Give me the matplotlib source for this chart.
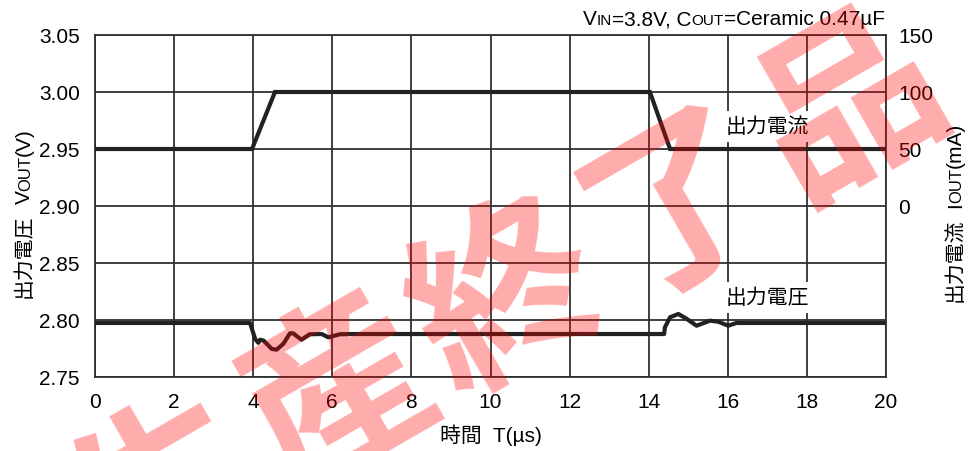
import numpy as np
import matplotlib.pyplot as plt

plt.rcParams['font.family'] = ['Liberation Sans', 'Noto Sans CJK JP']

# Load step response: output voltage (left axis) and load current (right axis)
time_v = [0, 3.92, 4.05, 4.13, 4.17, 4.26, 4.47, 4.59, 4.76, 4.93, 5.01, 5.22,
          5.43, 5.73, 5.90, 6.19, 6.5, 14.39, 14.41, 14.54, 14.75, 14.96, 15.21,
          15.55, 15.76, 16.01, 16.22, 16.5, 20]
vout = [2.7974, 2.7974, 2.7833, 2.7800, 2.7827, 2.7820, 2.7746, 2.7740, 2.7790,
        2.7883, 2.7883, 2.7827, 2.7875, 2.7877, 2.7848, 2.7875, 2.7877, 2.7877,
        2.7936, 2.8024, 2.8053, 2.8010, 2.7950, 2.7994, 2.7985, 2.7950, 2.7974,
        2.7974, 2.7974]

time_i = [0, 3.97, 4.55, 14.03, 14.54, 20]
iout = [50, 50, 100, 100, 50, 50]

x_ticks = list(range(0, 21, 2))
v_ticks = [2.75, 2.80, 2.85, 2.90, 2.95, 3.00, 3.05]
i_ticks = [0, 50, 100, 150]

W, H = 970, 452
fig = plt.figure(figsize=(W / 100, H / 100), dpi=100)
ax = fig.add_axes([95 / W, 1 - 378 / H, (886 - 95) / W, (378 - 36) / H])
grid_c = '#303030'
line_c = '#222222'

ax.set_xlim(0, 20)
ax.set_ylim(2.75, 3.05)
ax.set_xticks(x_ticks)
ax.set_yticks(v_ticks)
ax.set_yticklabels([f'{v:.2f}' for v in v_ticks])
ax.grid(True, color=grid_c, linewidth=1.3)
ax.tick_params(length=0, labelsize=15, pad=11)
for s in ax.spines.values():
    s.set_color(grid_c)
    s.set_linewidth(1.3)
ax.plot(time_v, vout, color=line_c, linewidth=3.0, solid_joinstyle='round', zorder=4)

ax2 = ax.twinx()
ax2.set_ylim(-150, 150)
ax2.set_yticks(i_ticks)
ax2.tick_params(length=0, labelsize=15, pad=9)
for s in ax2.spines.values():
    s.set_visible(False)
ax2.plot(time_i, iout, color=line_c, linewidth=3.0, solid_joinstyle='miter')

box = dict(facecolor='white', edgecolor='none', pad=4)
ax.text(17.0, 2.970, '出力電流', fontsize=15, ha='center', va='center', bbox=box, zorder=5)
ax.text(17.0, 2.820, '出力電圧', fontsize=15, ha='center', va='center', bbox=box, zorder=5)

renderer = fig.canvas.get_renderer()


def pieces_text(x, y, pieces, rotation=0, align='left'):
    """Draw text pieces of mixed size on one baseline, x/y in pixels."""
    arts = []
    pos = 0.0
    for s, size, gap in pieces:
        t = fig.text(0, 0, s, fontsize=size, rotation=rotation, ha='left',
                     va='baseline', rotation_mode='anchor')
        bb = t.get_window_extent(renderer)
        arts.append((t, pos))
        pos += (bb.width if rotation == 0 else bb.height) + gap
    shift = -pos if align == 'right' else 0
    for t, p in arts:
        if rotation == 0:
            t.set_position(((x + p + shift) / W, y / H))
        else:
            t.set_position((x / W, (y + p + shift) / H))


pieces_text(885, H - 25, [('V', 15, 0), ('IN', 11, 0), ('=3.8V, C', 15, 0),
                          ('OUT', 11, 0), ('=Ceramic 0.47µF', 15, 0)], align='right')
pieces_text(30, H - 298, [('出力電圧', 15, 10), ('V', 15, 0), ('OUT', 12, 0),
                          ('(V)', 15, 0)], rotation=90)
pieces_text(961, H - 302, [('出力電流', 15, 10), ('I', 15, 0), ('OUT', 12, 0),
                           ('(mA)', 15, 0)], rotation=90)
fig.text(491 / W, 10 / H, '時間  T(µs)', fontsize=15, ha='center', va='baseline')

# discontinued-product stamp, one glyph at a time along a 30 degree line
stamp = '生産終了品'
ang = np.deg2rad(30)
step = 196
for k, ch in enumerate(stamp):
    d = (k - 2) * step
    cx = 512 + d * np.cos(ang)
    cy = 307 - d * np.sin(ang)
    fig.text(cx / W, 1 - cy / H, ch, fontsize=133, fontweight='bold',
             color='red', alpha=0.33, rotation=30, ha='center', va='center',
             rotation_mode='anchor', zorder=10)

fig.savefig('out.png', dpi=100)
